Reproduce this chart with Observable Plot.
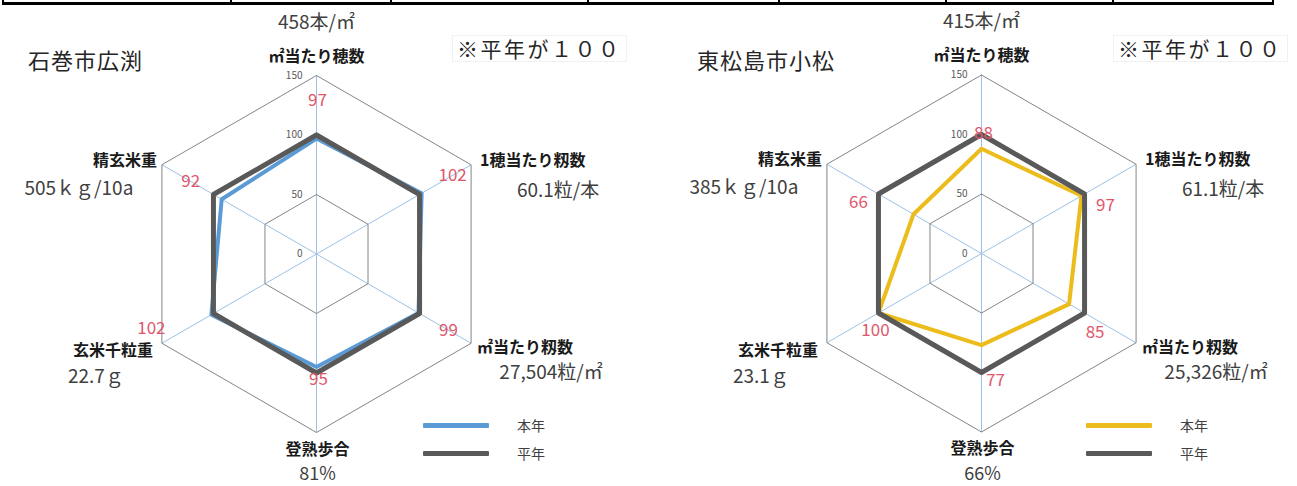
<!DOCTYPE html>
<html>
<head>
<meta charset="utf-8">
<script src="https://cdn.jsdelivr.net/npm/d3@7"></script>
<script src="https://cdn.jsdelivr.net/npm/@observablehq/plot@0.6"></script>
<style>
  body { margin: 0; background: #fff; font-family: "Noto Sans CJK JP", "Noto Sans", sans-serif; }
  #wrap { position: relative; width: 1297px; height: 486px; overflow: hidden; background: #fff; }
  .plot { position: absolute; top: 0; }
  .abs { position: absolute; white-space: nowrap; line-height: 1; }
  .title { font-size: 22px; color: #262626; letter-spacing: 1px; }
  .note { font-size: 21px; color: #262626; border: 1px solid #f1f1f1; padding: 2px 4px; letter-spacing: 2.5px; }
  .legline { position: absolute; height: 5px; border-radius: 1px; }
  .legtxt { position: absolute; font-size: 14px; color: #404040; line-height: 1; }
  .hbar { position: absolute; background: #000; }
</style>
</head>
<body>
<div id="wrap"></div>
<script>
// ---------- data ----------
const axisNames = ["㎡当たり穂数", "1穂当たり籾数", "㎡当たり籾数", "登熟歩合", "玄米千粒重", "精玄米重"];
const gridLevels = [0, 50, 100, 150];
const seriesNames = ["本年", "平年"];

const hirobuchiTitle = "石巻市広渕";
const hirobuchiActual = ["458本/㎡", "60.1粒/本", "27,504粒/㎡", "81%", "22.7ｇ", "505ｋｇ/10a"];
const hirobuchiThisYear = [97, 102, 99, 95, 102, 92];
const hirobuchiNormal = [100, 100, 100, 100, 100, 100];

const komatsuTitle = "東松島市小松";
const komatsuActual = ["415本/㎡", "61.1粒/本", "25,326粒/㎡", "66%", "23.1ｇ", "385ｋｇ/10a"];
const komatsuThisYear = [88, 97, 85, 77, 100, 66];
const komatsuNormal = [100, 100, 100, 100, 100, 100];

const noteText = "※平年が１００";

// ---------- layout ----------
const H = 486, K = 1.19;            // px per index unit
const FONT = "'Noto Sans CJK JP', sans-serif";
// offsets (px) of axis name / actual value from the 150 vertex
const nameLayout = [
  {dx: 0, dy: -19, anchor: "middle"},
  {dx: 9, dy: -4, anchor: "start"},
  {dx: 6, dy: 5, anchor: "start"},
  {dx: 1, dy: 17, anchor: "middle"},
  {dx: -9, dy: 8, anchor: "end"},
  {dx: -5, dy: -4, anchor: "end"}
];
const valueLayout = [
  {dx: 0, dy: -53, size: 19}, {dx: 87, dy: 26, size: 19}, {dx: 80, dy: 30, size: 19},
  {dx: 1, dy: 42, size: 18}, {dx: -66, dy: 34, size: 19}, {dx: -83, dy: 24, size: 19}
];

const ang = i => Math.PI / 2 - i * Math.PI / 3;
const px = (i, v) => v * Math.cos(ang(i));
const py = (i, v) => v * Math.sin(ang(i));
const idx = d3.range(axisNames.length);
const closed = [...idx, 0];

function radar({actual, thisYear, normal, color, cx, cy, width, nudges}) {
  const grid = gridLevels.filter(v => v > 0).flatMap(level => closed.map(i => ({level, i})));
  const thisPts = closed.map(i => ({i, v: thisYear[i]}));
  const normPts = closed.map(i => ({i, v: normal[i]}));
  const top = d3.max(gridLevels);
  const marks = [
    Plot.link(idx, {x1: () => 0, y1: () => 0, x2: i => px(i, top), y2: i => py(i, top), stroke: "#9dc0e4", strokeWidth: 1}),
    Plot.line(grid, {x: d => px(d.i, d.level), y: d => py(d.i, d.level), z: "level", stroke: "#858585", strokeWidth: 1}),
    Plot.text(gridLevels, {x: () => 0, y: d => d, text: d => String(d), textAnchor: "end", dx: -14, fontSize: 10, fill: "#595959", fontFamily: FONT}),
    Plot.line(thisPts, {x: d => px(d.i, d.v), y: d => py(d.i, d.v), stroke: color, strokeWidth: 4, strokeLinejoin: "round"}),
    Plot.line(normPts, {x: d => px(d.i, d.v), y: d => py(d.i, d.v), stroke: "#595959", strokeWidth: 5, strokeLinejoin: "round"}),
    Plot.text(idx, {x: i => px(i, thisYear[i]) + nudges[i][0] / K, y: i => py(i, thisYear[i]) - nudges[i][1] / K,
      text: i => String(thisYear[i]), fill: "#e0566a", fontSize: 17, fontFamily: FONT})
  ];
  idx.forEach(i => {
    marks.push(Plot.text([i], {x: j => px(j, top), y: j => py(j, top), text: j => axisNames[j],
      dx: nameLayout[i].dx, dy: nameLayout[i].dy, textAnchor: nameLayout[i].anchor,
      fontSize: 16, fontWeight: "bold", fill: "#1a1a1a", fontFamily: FONT, style: {letterSpacing: "1px"}}));
    marks.push(Plot.text([i], {x: j => px(j, top), y: j => py(j, top), text: j => actual[j],
      dx: valueLayout[i].dx, dy: valueLayout[i].dy, textAnchor: "middle",
      fontSize: valueLayout[i].size, fill: "#404040", fontFamily: FONT}));
  });
  return Plot.plot({
    width, height: H, margin: 0,
    x: {domain: [-cx / K, (width - cx) / K], range: [0, width], axis: null},
    y: {domain: [-(H - cy) / K, cy / K], range: [H, 0], axis: null},
    style: {background: "transparent", overflow: "visible"},
    marks
  });
}

const wrap = document.getElementById("wrap");

function place(el, left) { el.classList.add("plot"); el.style.left = left + "px"; wrap.appendChild(el); }

place(radar({actual: hirobuchiActual, thisYear: hirobuchiThisYear, normal: hirobuchiNormal, color: "#5b9bd5",
  cx: 316, cy: 253.5, width: 648,
  nudges: [[1, -38], [31, -18], [30, 18], [2, 12], [-60, 14], [-31, -18]]}), 0);
place(radar({actual: komatsuActual, thisYear: komatsuThisYear, normal: komatsuNormal, color: "#ecbc1c",
  cx: 332, cy: 253, width: 649,
  nudges: [[2, -15], [24, 10], [26, 28], [14, 35], [-3, 18], [-55, -12]]}), 649);

// titles, notes, legends
function addText(cls, text, left, top) {
  const d = document.createElement("div");
  d.className = "abs " + cls; d.textContent = text;
  d.style.left = left + "px"; d.style.top = top + "px";
  wrap.appendChild(d); return d;
}
addText("title", hirobuchiTitle, 28, 48);
addText("title", komatsuTitle, 697, 48);
addText("note", noteText, 452, 35);
addText("note", noteText, 1113, 35);

function legend(left, color) {
  const items = [{name: seriesNames[0], c: color, y: 423}, {name: seriesNames[1], c: "#595959", y: 451}];
  items.forEach(it => {
    const l = document.createElement("div");
    l.className = "legline"; l.style.left = left + "px"; l.style.top = it.y + "px";
    l.style.width = "66px"; l.style.background = it.c; wrap.appendChild(l);
    const t = document.createElement("div");
    t.className = "legtxt"; t.textContent = it.name;
    t.style.left = (left + 94) + "px"; t.style.top = (it.y - 5) + "px"; wrap.appendChild(t);
  });
}
legend(423, "#5b9bd5");
legend(1086, "#ecbc1c");

// top border of the table
function bar(l, t, w, h) { const b = document.createElement("div"); b.className = "hbar";
  Object.assign(b.style, {left: l + "px", top: t + "px", width: w + "px", height: h + "px"}); wrap.appendChild(b); }
bar(2, 2, 1272, 3);
[2, 230, 390, 587, 778, 945, 1112, 1272].forEach(x => bar(x, 0, 2, 5));
</script>
</body>
</html>
